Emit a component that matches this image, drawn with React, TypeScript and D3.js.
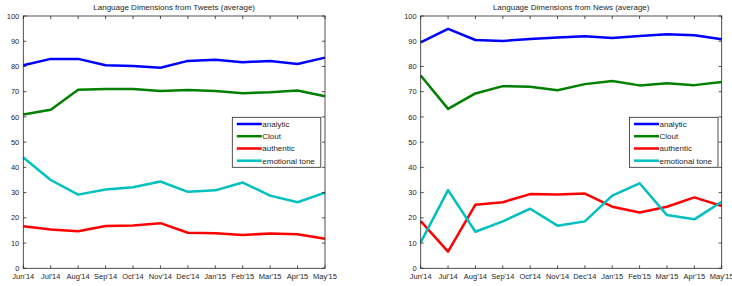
import React from 'react';
import * as d3 from 'd3';

const months = ["Jun'14", "Jul'14", "Aug'14", "Sep'14", "Oct'14", "Nov'14", "Dec'14", "Jan'15", "Feb'15", "Mar'15", "Apr'15", "May'15"];
const yTicks = [0, 10, 20, 30, 40, 50, 60, 70, 80, 90, 100];
const seriesNames = ['analytic', 'Clout', 'authentic', 'emotional tone'];
const seriesColors = ['#0000ff', '#008000', '#ff0000', '#00bfbf'];

// Tweets
const tweetsAnalytic = [80.5, 83, 83, 80.5, 80.2, 79.5, 82.2, 82.7, 81.7, 82.2, 81, 83.5];
const tweetsClout = [61, 62.8, 70.8, 71.1, 71.1, 70.3, 70.7, 70.3, 69.4, 69.8, 70.5, 68.2];
const tweetsAuthentic = [16.7, 15.4, 14.7, 16.8, 17, 17.9, 14.1, 13.9, 13.2, 13.8, 13.5, 11.7];
const tweetsTone = [43.9, 35, 29.2, 31.2, 32.1, 34.4, 30.3, 30.9, 34, 28.8, 26.2, 30];

// News
const newsAnalytic = [89.5, 94.9, 90.5, 90.1, 90.9, 91.5, 92, 91.3, 92.1, 92.8, 92.4, 90.8];
const newsClout = [76.4, 63.2, 69.3, 72.2, 72, 70.6, 73, 74.2, 72.5, 73.3, 72.6, 73.8];
const newsAuthentic = [18.7, 6.6, 25.2, 26.2, 29.4, 29.3, 29.6, 24.4, 22.1, 24.4, 28.1, 24.7];
const newsTone = [10.3, 31, 14.5, 18.6, 23.6, 16.9, 18.6, 28.8, 33.7, 21.1, 19.4, 26.4];

const W = 732;
const H = 286;
const font = 'Arial, "Liberation Sans", Helvetica, sans-serif';
const axisColor = '#262626';

type PanelProps = {
  left: number;
  right: number;
  title: string;
  series: number[][];
  legendX: number;
};

const Panel = ({ left, right, title, series, legendX }: PanelProps) => {
  const top = 16;
  const bottom = 268.3;
  const x = d3.scalePoint<string>().domain(months).range([left, right]);
  const y = d3.scaleLinear().domain([0, 100]).range([bottom, top]);
  const line = d3.line<number>()
    .x((_, i) => x(months[i]) as number)
    .y(d => y(d));
  const tickLen = 3;
  const legendY = 117.3;
  const legendW = 88.5;
  const legendH = 50;
  const rowY = [124, 136.2, 148.5, 160.7];

  return (
    <g>
      <text x={(left + right) / 2} y={10} textAnchor="middle" fontSize={8} fill={axisColor} fontFamily={font}>{title}</text>
      <rect x={left} y={top} width={right - left} height={bottom - top} fill="white" stroke="none" />

      {series.map((s, i) => (
        <path key={i} d={line(s) || ''} fill="none" stroke={seriesColors[i]} strokeWidth={2.5} strokeLinejoin="round" />
      ))}

      {/* y ticks on both sides */}
      {yTicks.map(t => (
        <g key={t}>
          <line x1={left} x2={left + tickLen} y1={y(t)} y2={y(t)} stroke={axisColor} strokeWidth={0.8} />
          <line x1={right} x2={right - tickLen} y1={y(t)} y2={y(t)} stroke={axisColor} strokeWidth={0.8} />
          <text x={left - 4} y={y(t)} dy="0.35em" textAnchor="end" fontSize={7.5} fill={axisColor} fontFamily={font}>{t}</text>
        </g>
      ))}

      {/* x ticks top and bottom */}
      {months.map(m => (
        <g key={m}>
          <line x1={x(m)} x2={x(m)} y1={bottom} y2={bottom - tickLen} stroke={axisColor} strokeWidth={0.8} />
          <line x1={x(m)} x2={x(m)} y1={top} y2={top + tickLen} stroke={axisColor} strokeWidth={0.8} />
          <text x={x(m)} y={bottom + 11} textAnchor="middle" fontSize={7.5} fill={axisColor} fontFamily={font}>{m}</text>
        </g>
      ))}

      <rect x={left} y={top} width={right - left} height={bottom - top} fill="none" stroke={axisColor} strokeWidth={0.8} />

      {/* legend */}
      <rect x={legendX} y={legendY} width={legendW} height={legendH} fill="white" stroke={axisColor} strokeWidth={0.8} />
      {seriesNames.map((n, i) => (
        <g key={n}>
          <line x1={legendX + 4.5} x2={legendX + 29.5} y1={rowY[i]} y2={rowY[i]} stroke={seriesColors[i]} strokeWidth={2.5} />
          <text x={legendX + 30} y={rowY[i]} dy="0.35em" fontSize={8} fill={axisColor} fontFamily={font}>{n}</text>
        </g>
      ))}
    </g>
  );
};

export default function App() {
  return (
    <div style={{ position: 'fixed', left: 0, top: 0, width: W, height: H, background: 'white' }}>
      <svg width={W} height={H} style={{ display: 'block' }}>
        <rect width={W} height={H} fill="white" />
        <Panel
          left={23.3}
          right={325}
          title="Language Dimensions from Tweets (average)"
          series={[tweetsAnalytic, tweetsClout, tweetsAuthentic, tweetsTone]}
          legendX={232.3}
        />
        <Panel
          left={420.7}
          right={721.7}
          title="Language Dimensions from News (average)"
          series={[newsAnalytic, newsClout, newsAuthentic, newsTone]}
          legendX={629.5}
        />
      </svg>
    </div>
  );
}
